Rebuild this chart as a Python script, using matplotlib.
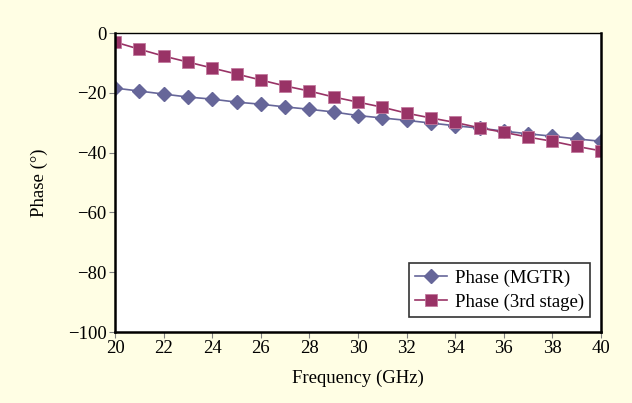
import numpy as np
import matplotlib.pyplot as plt

plt.rcParams['font.family'] = ['Liberation Serif', 'DejaVu Serif']

freq = list(range(20, 41))
phase_mgtr = [-18.4, -19.4, -20.4, -21.4, -22.1, -23.1, -23.8, -24.7, -25.5, -26.4, -27.6,
              -28.4, -29.2, -30.1, -31.0, -31.8, -32.8, -33.7, -34.5, -35.4, -36.2]
phase_3rd = [-3.0, -5.4, -7.7, -9.7, -11.7, -13.7, -15.7, -17.7, -19.4, -21.4, -23.1,
             -24.8, -26.8, -28.4, -29.9, -31.7, -33.2, -34.8, -36.2, -37.9, -39.4]

bg = '#fffee4'
fig = plt.figure(figsize=(6.32, 4.03), dpi=100, facecolor=bg)
ax = fig.add_axes([0.182, 0.176, 0.769, 0.742])
ax.set_facecolor('white')

ax.plot(freq, phase_mgtr, color='#666699', marker='D', markersize=7, lw=1.2,
        label='Phase (MGTR)')
ax.plot(freq, phase_3rd, color='#993366', marker='s', markersize=8, lw=1.2,
        markeredgecolor='#c27a9e', markeredgewidth=0.6, label='Phase (3rd stage)')

ax.set_xlim(20, 40)
ax.set_ylim(-100, 0)
ax.set_xticks(range(20, 41, 2))
ax.set_yticks(range(-100, 1, 20))
ax.set_yticklabels(['\u2212100', '\u221280', '\u221260', '\u221240', '\u221220', '0'])
ax.tick_params(direction='out', length=4, color='#808080', labelsize=13.5, pad=2)

for s in ['left', 'right', 'top', 'bottom']:
    ax.spines[s].set_color('black')
ax.spines['left'].set_linewidth(1.8)
ax.spines['right'].set_linewidth(1.8)
ax.spines['top'].set_linewidth(1.0)
ax.spines['bottom'].set_linewidth(1.8)

ax.set_xlabel('Frequency (GHz)', fontsize=13.5, labelpad=9)
ax.set_ylabel('Phase (\u00b0)', fontsize=13.5, labelpad=14)

leg = ax.legend(loc='lower right', bbox_to_anchor=(0.978, 0.05), fontsize=13.5,
                frameon=True, fancybox=False, edgecolor='black', borderpad=0.35,
                handlelength=1.7, handletextpad=0.4, labelspacing=0.35, borderaxespad=0)
leg.get_frame().set_linewidth(1.2)

fig.savefig('out.png', dpi=100, facecolor=bg)
